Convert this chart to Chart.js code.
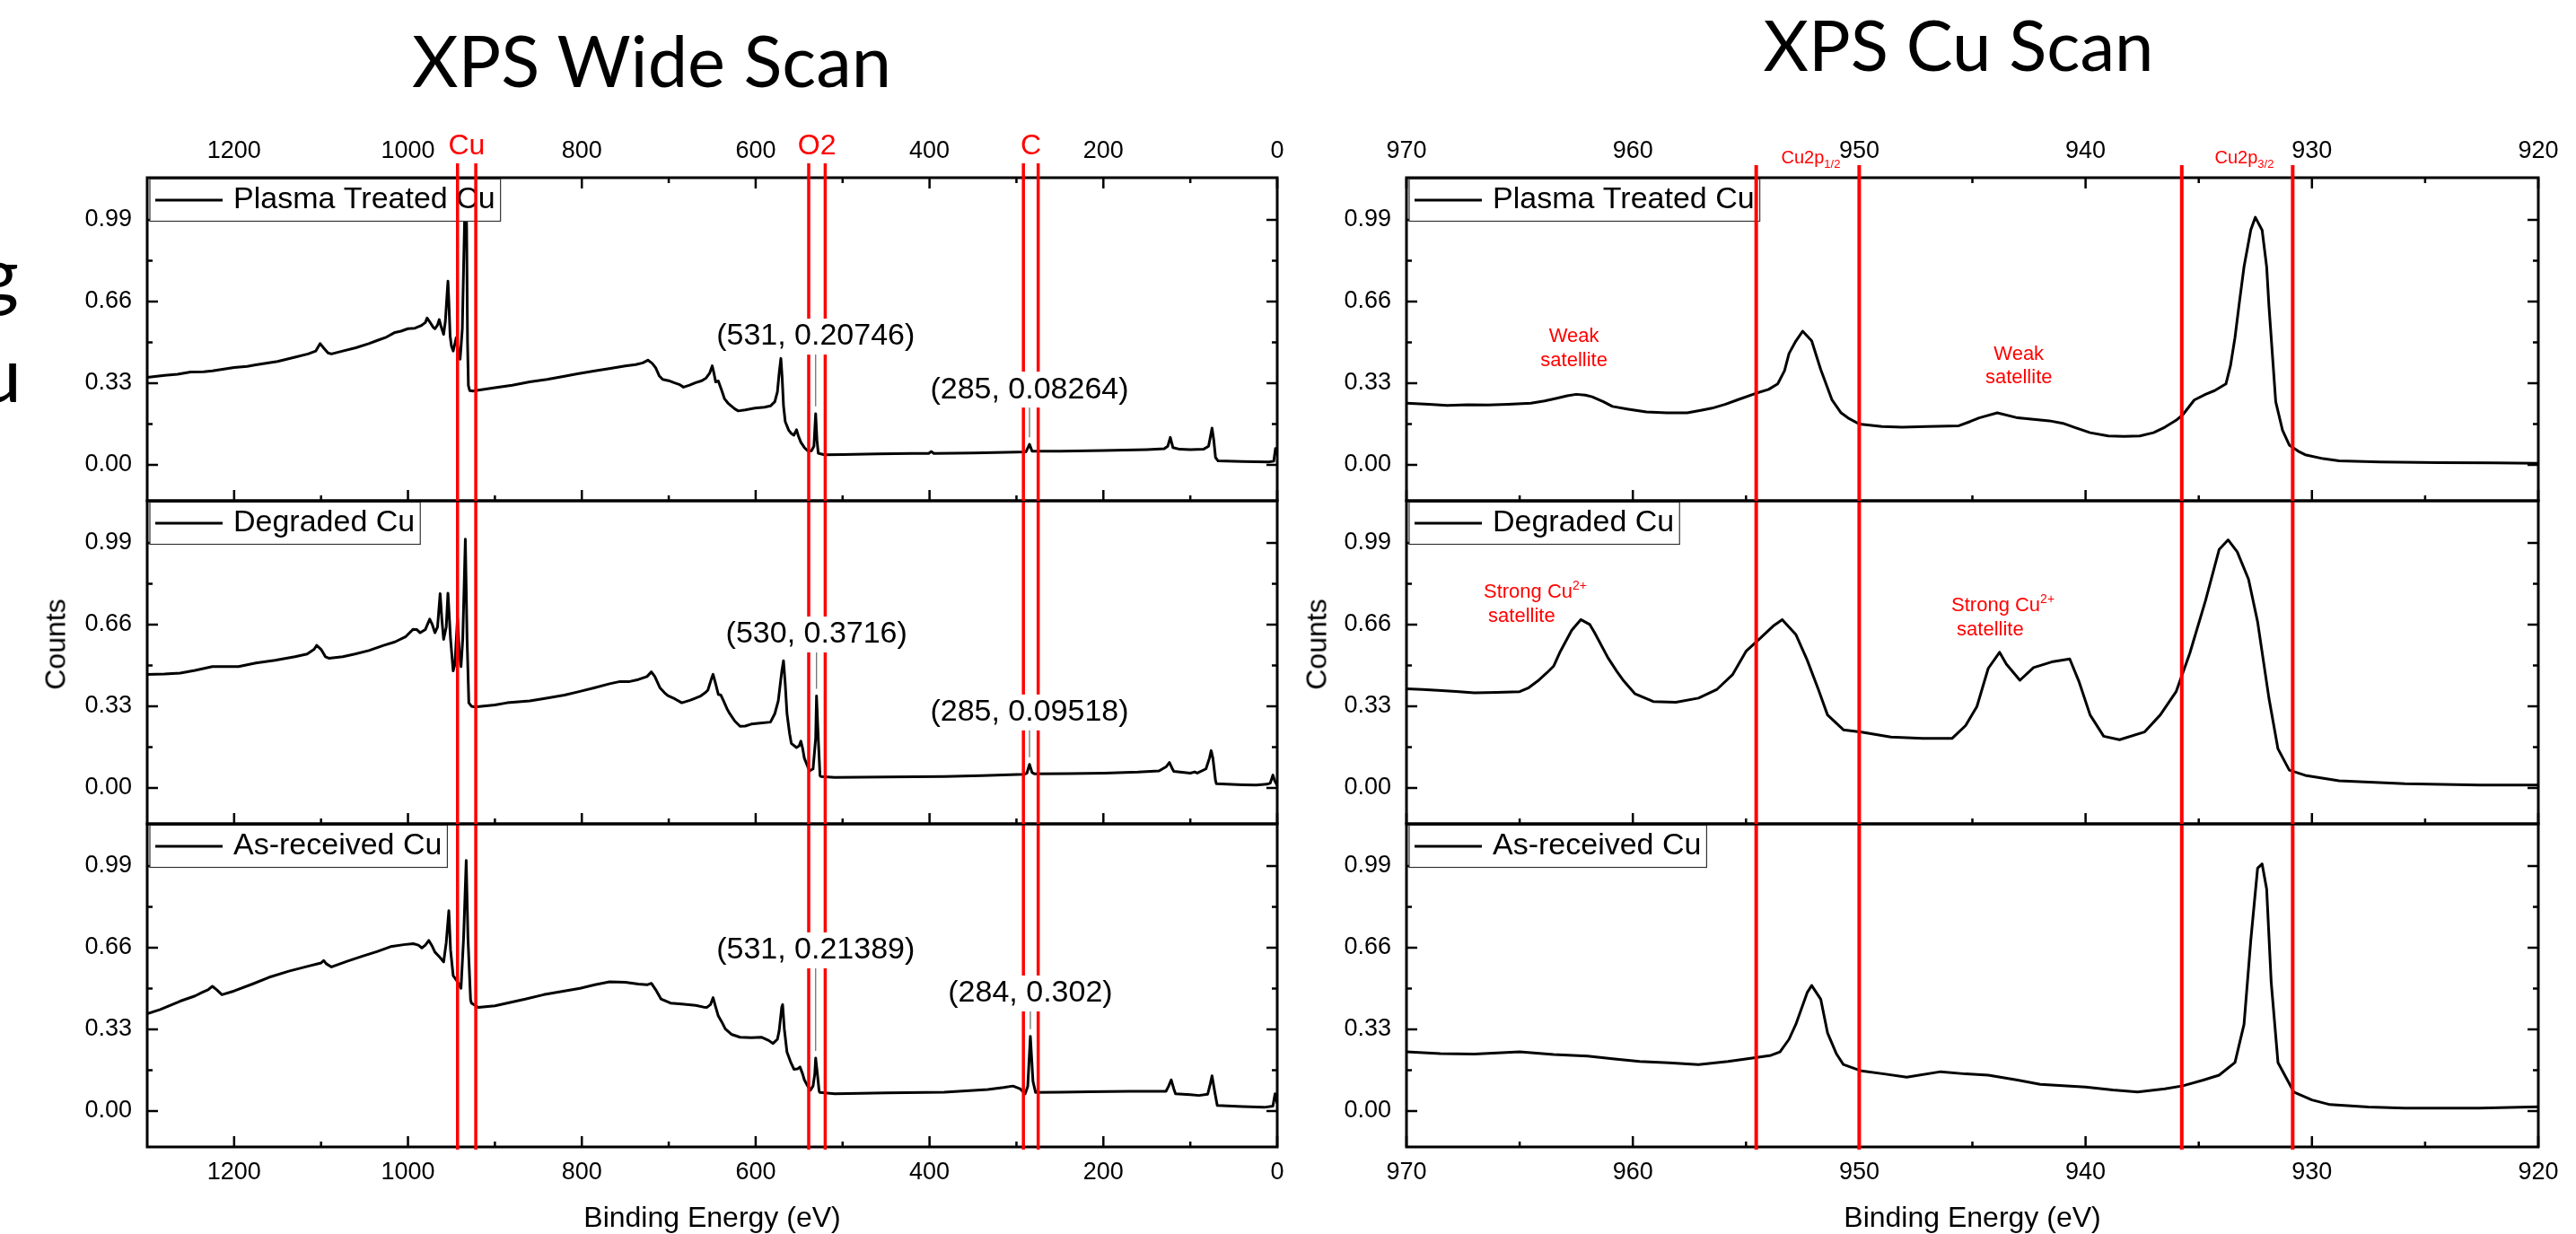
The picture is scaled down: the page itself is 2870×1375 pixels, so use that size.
<!DOCTYPE html>
<html>
<head>
<meta charset="utf-8">
<script src="https://cdn.jsdelivr.net/npm/chart.js@4.4.1/dist/chart.umd.min.js"></script>
<style>
  html, body { margin: 0; padding: 0; background: #fff; }
  body { position: relative; width: 2870px; height: 1375px; overflow: hidden; font-family: "Liberation Sans", Arial, sans-serif; }
  canvas { position: absolute; }
  .txt { position: absolute; white-space: nowrap; line-height: 1; color: #000; }
  .title { font-family: Lato, "Open Sans", sans-serif; }
  .axis { font-size: 32px; }
  .edge { font-family: Lato, sans-serif; font-size: 86px; }
  .counts { position: absolute; font-size: 32px; white-space: nowrap; transform: translate(-50%, -50%) rotate(-90deg); }
</style>
</head>
<body>
<div id="title1" class="txt title">XPS Wide Scan</div>
<div id="title2" class="txt title">XPS Cu Scan</div>
<div id="edge1" class="txt edge">g</div>
<div id="edge2" class="txt edge">u</div>
<div class="counts" style="left:62px;top:718px">Counts</div>
<div class="counts" style="left:1467px;top:718px">Counts</div>
<div id="xlab1" class="txt axis">Binding Energy (eV)</div>
<div id="xlab2" class="txt axis">Binding Energy (eV)</div>

<script>
// ---- axis ticks ----
const wideTicks = [0, 200, 400, 600, 800, 1000, 1200];
const wideMinor = [100, 300, 500, 700, 900, 1100];
const cuTicks = [920, 930, 940, 950, 960, 970];
const cuMinor = [925, 935, 945, 955, 965];
const countTicks = [0, 0.33, 0.66, 0.99];
const countMinor = [0.165, 0.495, 0.825];

const sampleNames = ['Plasma Treated Cu', 'Degraded Cu', 'As-received Cu'];

// ---- wide scans [binding energy eV, counts] ----
const wideTreated = [
  [1300,0.353],[1280,0.362],[1265,0.366],[1250,0.375],[1235,0.376],[1225,0.38],[1210,0.388],[1200,0.393],
  [1185,0.398],[1175,0.404],[1160,0.412],[1150,0.418],[1130,0.435],[1115,0.448],[1106,0.46],[1101,0.49],
  [1097,0.472],[1092,0.452],[1088,0.448],[1075,0.46],[1060,0.473],[1045,0.49],[1035,0.503],[1026,0.514],
  [1015,0.535],[1008,0.54],[1000,0.55],[992,0.552],[985,0.562],[980,0.575],[978,0.593],[975,0.578],
  [971,0.556],[969,0.55],[966,0.565],[964,0.587],[962,0.56],[959,0.527],[957,0.58],[955,0.69],[954,0.742],
  [953,0.66],[951.5,0.52],[950,0.48],[948,0.46],[946,0.49],[944.5,0.514],[942.5,0.47],[940,0.427],
  [937.5,0.55],[936,0.8],[934.5,1.05],[933.7,1.17],[932.5,0.95],[931.5,0.5],[930.5,0.32],[929,0.3],
  [925,0.298],[919,0.302],[900,0.312],[880,0.322],[860,0.335],[840,0.345],[820,0.358],[805,0.368],
  [785,0.38],[767,0.39],[750,0.4],[738,0.405],[730,0.412],[724,0.423],[719,0.41],[715,0.392],[711,0.36],
  [707,0.345],[700,0.34],[694,0.332],[688,0.325],[683,0.314],[676,0.322],[669,0.332],[662,0.34],
  [657,0.351],[653,0.37],[650,0.4],[648,0.37],[646,0.335],[643,0.339],[639,0.3],[636,0.268],[632,0.25],
  [629,0.241],[624,0.226],[620,0.218],[612,0.222],[601,0.229],[590,0.233],[583,0.238],[578,0.255],
  [575,0.295],[573,0.37],[571,0.43],[569.5,0.35],[568,0.24],[566,0.175],[562,0.14],[559,0.127],
  [556,0.12],[553,0.142],[551,0.118],[548,0.091],[544,0.07],[540,0.056],[536,0.056],[533,0.075],
  [531,0.207],[529.5,0.1],[528,0.047],[521,0.041],[500,0.042],[460,0.044],[420,0.046],[401,0.046],
  [398,0.054],[395,0.046],[350,0.048],[300,0.052],[289,0.053],[285,0.083],[282,0.055],[250,0.055],
  [200,0.058],[150,0.062],[130,0.065],[126,0.075],[123,0.111],[120,0.07],[112,0.063],[100,0.062],
  [85,0.063],[79,0.075],[76.5,0.12],[75,0.149],[73,0.1],[71,0.03],[68,0.016],[40,0.014],[10,0.012],
  [4,0.015],[2,0.066],[0,0.04]
];
const wideDegraded = [
  [1300,0.459],[1280,0.46],[1262,0.464],[1245,0.475],[1225,0.49],[1195,0.49],[1175,0.505],[1153,0.516],
  [1130,0.53],[1116,0.541],[1108,0.56],[1105,0.576],[1100,0.56],[1095,0.53],[1091,0.524],[1075,0.53],
  [1061,0.541],[1045,0.555],[1028,0.576],[1015,0.59],[1003,0.61],[994,0.641],[990,0.64],[986,0.627],
  [980,0.64],[975,0.682],[972,0.66],[969,0.627],[966,0.65],[963,0.785],[961,0.68],[959,0.6],[956,0.65],
  [954,0.787],[951,0.6],[948,0.473],[946,0.5],[943,0.688],[941,0.55],[939,0.49],[937,0.6],[934,1.005],
  [932,0.6],[930,0.344],[927,0.33],[923,0.327],[900,0.335],[886,0.344],[860,0.352],[844,0.361],
  [820,0.375],[802,0.39],[785,0.405],[768,0.421],[756,0.43],[745,0.43],[735,0.438],[725,0.45],
  [720,0.469],[716,0.45],[710,0.404],[705,0.385],[701,0.373],[693,0.36],[685,0.344],[675,0.355],
  [664,0.37],[658,0.385],[655,0.395],[651,0.44],[649,0.459],[646,0.42],[643,0.378],[640,0.375],
  [637,0.352],[633,0.32],[630,0.301],[624,0.27],[618,0.249],[612,0.25],[605,0.258],[595,0.262],
  [583,0.266],[578,0.3],[574,0.352],[570,0.47],[568,0.514],[566,0.42],[564,0.301],[561,0.22],
  [559,0.18],[553,0.163],[550,0.17],[548,0.189],[546,0.16],[544,0.12],[540,0.085],[538,0.069],
  [534,0.077],[531,0.2],[530,0.372],[528,0.2],[526,0.05],[525,0.046],[509,0.043],[450,0.044],
  [383,0.046],[340,0.05],[291,0.055],[288,0.06],[285,0.095],[282,0.062],[279,0.057],[240,0.058],
  [199,0.06],[160,0.064],[136,0.069],[128,0.085],[124,0.103],[121,0.08],[119,0.067],[100,0.06],
  [95,0.065],[92,0.06],[82,0.077],[78,0.12],[76,0.151],[74,0.12],[71,0.03],[70,0.017],[40,0.013],
  [24,0.012],[12,0.015],[8,0.02],[5,0.052],[3,0.03],[0,0.01]
];
const wideReceived = [
  [1300,0.393],[1285,0.41],[1262,0.444],[1245,0.465],[1237,0.479],[1230,0.49],[1225,0.504],[1220,0.49],
  [1214,0.47],[1200,0.485],[1179,0.513],[1160,0.54],[1137,0.565],[1115,0.585],[1100,0.598],[1097,0.608],
  [1094,0.595],[1088,0.582],[1070,0.605],[1053,0.625],[1035,0.645],[1020,0.664],[1005,0.672],[994,0.676],
  [988,0.67],[984,0.659],[980,0.67],[976,0.689],[972,0.665],[969,0.642],[963,0.62],[959,0.602],
  [956,0.68],[953,0.809],[951,0.65],[948,0.547],[943,0.522],[939,0.496],[936,0.7],[933,1.012],
  [931,0.7],[928,0.45],[927,0.436],[919,0.419],[900,0.425],[886,0.436],[865,0.452],[844,0.47],
  [820,0.485],[802,0.496],[785,0.51],[768,0.522],[750,0.52],[735,0.513],[725,0.51],[720,0.516],
  [715,0.49],[709,0.453],[698,0.436],[685,0.432],[669,0.427],[660,0.42],[656,0.419],[652,0.43],
  [649,0.458],[646,0.42],[643,0.384],[639,0.36],[635,0.332],[628,0.31],[618,0.298],[605,0.296],
  [593,0.298],[585,0.285],[580,0.273],[575,0.29],[573,0.324],[570,0.42],[569,0.43],[567,0.33],
  [564,0.238],[560,0.2],[556,0.169],[552,0.17],[549,0.178],[546,0.15],[544,0.126],[540,0.1],
  [537,0.084],[534,0.101],[532,0.15],[531,0.214],[529,0.15],[527,0.08],[526,0.075],[509,0.07],
  [450,0.073],[383,0.076],[333,0.087],[315,0.095],[304,0.101],[296,0.09],[290,0.07],[287,0.1],
  [284,0.302],[281,0.12],[278,0.075],[250,0.076],[216,0.078],[170,0.08],[128,0.08],[125,0.1],
  [122,0.126],[119,0.09],[117,0.07],[100,0.066],[90,0.063],[80,0.068],[77,0.11],[75,0.142],[72,0.08],
  [69,0.023],[40,0.018],[15,0.015],[5,0.02],[2.5,0.07],[0,0.03]
];

// ---- Cu 2p scans [binding energy eV, counts] ----
const cuTreated = [
  [970,0.249],[969,0.245],[968.2,0.24],[967.3,0.243],[966.4,0.242],[965.5,0.245],[964.5,0.249],
  [963.9,0.258],[963.4,0.268],[962.9,0.279],[962.5,0.285],[962.1,0.282],[961.8,0.275],[961.3,0.255],
  [960.9,0.236],[960.2,0.225],[959.4,0.214],[958.5,0.21],[957.6,0.21],[957,0.22],[956.5,0.229],
  [955.9,0.245],[955.4,0.262],[954.6,0.288],[954,0.305],[953.6,0.327],[953.3,0.38],[953.1,0.45],
  [952.8,0.5],[952.5,0.54],[952.1,0.501],[951.7,0.385],[951.2,0.262],[950.8,0.21],[950.5,0.19],
  [950,0.165],[949,0.155],[948.1,0.152],[947,0.155],[945.6,0.158],[945.1,0.175],[944.7,0.19],
  [943.9,0.21],[943,0.19],[941.6,0.178],[941,0.168],[940.5,0.152],[939.8,0.13],[939,0.117],
  [938.3,0.115],[937.6,0.117],[937,0.13],[936.5,0.152],[936,0.18],[935.7,0.203],[935.2,0.262],
  [934.7,0.285],[934.3,0.3],[933.8,0.327],[933.6,0.4],[933.4,0.514],[933.2,0.66],[933,0.8],
  [932.7,0.95],[932.5,1.0],[932.2,0.948],[932,0.8],[931.9,0.644],[931.6,0.255],[931.3,0.14],
  [931,0.08],[930.6,0.055],[930.3,0.041],[929.5,0.025],[928.8,0.016],[927,0.012],[924.4,0.009],
  [922,0.008],[920,0.006]
];
const cuDegraded = [
  [970,0.401],[969.3,0.398],[968.6,0.394],[967.8,0.39],[967,0.384],[966,0.386],[965,0.389],
  [964.6,0.405],[964.2,0.432],[963.8,0.465],[963.5,0.492],[963.2,0.552],[962.7,0.637],[962.3,0.68],
  [961.9,0.66],[961.7,0.629],[961.1,0.526],[960.7,0.47],[960.4,0.432],[959.9,0.38],[959.1,0.349],
  [958.1,0.346],[957.1,0.363],[956.3,0.397],[955.6,0.457],[955,0.552],[954.5,0.594],[953.8,0.654],
  [953.4,0.68],[952.8,0.62],[952.3,0.517],[951.8,0.397],[951.4,0.295],[950.7,0.235],[949.9,0.226],
  [948.6,0.206],[947.2,0.2],[945.9,0.2],[945.3,0.252],[944.8,0.329],[944.3,0.483],[943.8,0.548],
  [943.5,0.5],[942.9,0.435],[942.3,0.486],[941.5,0.509],[940.7,0.521],[940.3,0.432],[939.8,0.295],
  [939.2,0.209],[938.5,0.195],[937.4,0.226],[936.7,0.295],[936,0.389],[935.4,0.543],[934.7,0.757],
  [934.1,0.963],[933.7,1.002],[933.3,0.954],[932.8,0.843],[932.4,0.671],[931.9,0.363],[931.5,0.158],
  [931,0.072],[930.3,0.051],[928.8,0.029],[925.9,0.017],[922.6,0.012],[920,0.012]
];
const cuReceived = [
  [970,0.239],[968.5,0.232],[967,0.23],[965,0.239],[963.5,0.228],[962,0.222],[960.8,0.21],
  [959.7,0.2],[958.4,0.195],[957.1,0.188],[955.8,0.2],[954.8,0.213],[953.9,0.225],[953.5,0.239],
  [953.1,0.29],[952.8,0.35],[952.3,0.478],[952.1,0.507],[951.7,0.452],[951.4,0.316],[951,0.23],
  [950.7,0.188],[949.9,0.162],[948.9,0.15],[947.9,0.137],[946.4,0.159],[945.3,0.15],[944.3,0.145],
  [943,0.125],[942,0.108],[940,0.097],[938.8,0.085],[937.7,0.077],[936.5,0.09],[935.7,0.102],
  [934.8,0.125],[934.1,0.145],[933.4,0.196],[933,0.35],[932.7,0.691],[932.4,0.981],[932.2,0.998],
  [932,0.896],[931.8,0.521],[931.5,0.196],[930.8,0.077],[930,0.045],[929.2,0.026],[927.5,0.016],
  [925.9,0.012],[922.6,0.012],[920,0.017]
];

// ---- reference lines (eV) and their names ----
const wideMarkers = [943, 922, 539, 520, 292, 275];
const wideMarkerNames = [['Cu', 932.5], ['O2', 529.5], ['C', 283.5]];
const cuMarkers = [954.55, 950.0, 935.75, 930.85];
const cuMarkerNames = [['Cu2p', '1/2', 950.0], ['Cu2p', '3/2', 930.85]];

// ---- peak read-outs on the wide scans ----
const widePeaks = [
  [[531, 0.20746], [285, 0.08264]],
  [[530, 0.3716], [285, 0.09518]],
  [[531, 0.21389], [284, 0.302]]
];
// where the read-out boxes sit (counts level of their centre)
const widePeakLabelAt = [[0.518, 0.304], [0.62, 0.305], [0.649, 0.475]];

// satellite notes on the Cu scan: [text, superscript, energy, baseline level, align]
const cuNotes = [
  [
    ['Weak', '', 962.6, 0.497, 'center'], ['satellite', '', 962.6, 0.397, 'center'],
    ['Weak', '', 942.95, 0.424, 'center'], ['satellite', '', 942.95, 0.33, 'center']
  ],
  [
    ['Strong Cu', '2+', 966.59, 0.767, 'left'], ['satellite', '', 966.39, 0.669, 'left'],
    ['Strong Cu', '2+', 945.93, 0.715, 'left'], ['satellite', '', 945.69, 0.616, 'left']
  ],
  []
];

const FONT = '"Liberation Sans", Arial, sans-serif';
const RED = '#ff0000';
const panelTops = [198, 558, 918];
const panelH = 360;
const yMin = -0.145, yMax = 1.16;

const columns = [
  { left: 164, width: 1259, min: 0, max: 1300, major: wideTicks, minor: wideMinor,
    markers: wideMarkers, markerW: 3.5, rise: 16, series: [wideTreated, wideDegraded, wideReceived] },
  { left: 1567, width: 1261, min: 920, max: 970, major: cuTicks, minor: cuMinor,
    markers: cuMarkers, markerW: 4, rise: 14, series: [cuTreated, cuDegraded, cuReceived] }
];

function drawRich(ctx, parts, x, y, align) {
  const widths = parts.map(p => { ctx.font = p.size + 'px ' + FONT; return ctx.measureText(p.t).width; });
  const total = widths.reduce((s, w) => s + w, 0);
  let cx = align === 'right' ? x - total : align === 'center' ? x - total / 2 : x;
  ctx.textAlign = 'left';
  ctx.textBaseline = 'alphabetic';
  parts.forEach((p, i) => {
    ctx.font = p.size + 'px ' + FONT;
    ctx.fillText(p.t, cx, y + (p.dy || 0));
    cx += widths[i];
  });
}

function decor(col, row) {
  const c = columns[col];
  return {
    id: 'decor',
    afterDatasetsDraw(chart) {
      const ctx = chart.ctx;
      const a = chart.chartArea;
      const X = v => chart.scales.x.getPixelForValue(v);
      const Y = v => chart.scales.y.getPixelForValue(v);
      ctx.save();

      // frame and inward ticks
      ctx.strokeStyle = '#000';
      ctx.lineWidth = 3;
      ctx.strokeRect(a.left, a.top, a.right - a.left, a.bottom - a.top);
      ctx.lineWidth = 2.5;
      ctx.beginPath();
      [[c.major, 12], [c.minor, 6]].forEach(([vals, len]) => vals.forEach(v => {
        const x = X(v);
        ctx.moveTo(x, a.bottom); ctx.lineTo(x, a.bottom - len);
        if (row === 0) { ctx.moveTo(x, a.top); ctx.lineTo(x, a.top + len); }
      }));
      [[countTicks, 12], [countMinor, 6]].forEach(([vals, len]) => vals.forEach(v => {
        const y = Y(v);
        ctx.moveTo(a.left, y); ctx.lineTo(a.left + len, y);
        ctx.moveTo(a.right, y); ctx.lineTo(a.right - len, y);
      }));
      ctx.stroke();

      // legend
      const name = chart.data.datasets[0].label;
      ctx.font = '34px ' + FONT;
      const lw = ctx.measureText(name).width;
      ctx.fillStyle = '#fff';
      ctx.fillRect(a.left + 3, a.top + 1.5, lw + 99, 47);
      ctx.strokeStyle = '#333';
      ctx.lineWidth = 1.2;
      ctx.strokeRect(a.left + 3, a.top + 1.5, lw + 99, 47);
      ctx.strokeStyle = '#000';
      ctx.lineWidth = 3;
      ctx.beginPath();
      ctx.moveTo(a.left + 9, a.top + 25);
      ctx.lineTo(a.left + 84, a.top + 25);
      ctx.stroke();
      ctx.fillStyle = '#000';
      ctx.textAlign = 'left';
      ctx.textBaseline = 'middle';
      ctx.fillText(name, a.left + 96, a.top + 25);

      // red reference lines
      ctx.strokeStyle = RED;
      ctx.lineWidth = c.markerW;
      ctx.beginPath();
      const y0 = row === 0 ? a.top - c.rise : a.top;
      const y1 = row === 2 ? a.bottom + 3 : a.bottom;
      c.markers.forEach(v => { const x = X(v); ctx.moveTo(x, y0); ctx.lineTo(x, y1); });
      ctx.stroke();

      // red names above the top panel
      ctx.fillStyle = RED;
      if (row === 0 && col === 0) {
        ctx.font = '32px ' + FONT;
        ctx.textAlign = 'center';
        ctx.textBaseline = 'alphabetic';
        wideMarkerNames.forEach(([t, e]) => ctx.fillText(t, X(e), a.top - 26));
      }
      if (row === 0 && col === 1) {
        cuMarkerNames.forEach(([t, sub, e]) =>
          drawRich(ctx, [{ t, size: 20 }, { t: sub, size: 13, dy: 5 }], X(e) - 21, a.top - 16, 'right'));
      }

      // peak read-outs (wide scan)
      if (col === 0) {
        ctx.font = '34px ' + FONT;
        widePeaks[row].forEach(([e, v], i) => {
          const text = '(' + e + ', ' + v + ')';
          const x = X(e);
          const y = Y(widePeakLabelAt[row][i]);
          const w = ctx.measureText(text).width;
          ctx.fillStyle = '#fff';
          ctx.fillRect(x - w / 2 - 2, y - 20, w + 4, 40);
          ctx.strokeStyle = '#666';
          ctx.lineWidth = 1.2;
          ctx.beginPath();
          ctx.moveTo(x, y + 20);
          ctx.lineTo(x, Y(v) - 8);
          ctx.stroke();
          ctx.fillStyle = '#000';
          ctx.textAlign = 'center';
          ctx.textBaseline = 'middle';
          ctx.fillText(text, x, y);
        });
      }

      // satellite notes (Cu scan)
      if (col === 1) {
        ctx.fillStyle = RED;
        cuNotes[row].forEach(([t, sup, e, lvl, align]) => {
          const parts = [{ t, size: 22 }];
          if (sup) parts.push({ t: sup, size: 14, dy: -9 });
          drawRich(ctx, parts, X(e), Y(lvl), align);
        });
      }
      ctx.restore();
    }
  };
}

function makePanel(col, row) {
  const c = columns[col];
  const cv = document.createElement('canvas');
  const W = 120 + c.width + 40, H = 120 + panelH + 120;
  cv.width = W; cv.height = H;
  cv.style.width = W + 'px'; cv.style.height = H + 'px';
  cv.style.left = (c.left - 120) + 'px';
  cv.style.top = (panelTops[row] - 120) + 'px';
  document.body.insertBefore(cv, document.body.firstChild);

  const xAxis = (position, showLabels, pad) => ({
    type: 'linear', position, min: c.min, max: c.max, reverse: true,
    grid: { display: false, drawTicks: false }, border: { display: false },
    ticks: { display: showLabels, padding: pad, autoSkip: false, maxRotation: 0,
             font: { size: 27, family: FONT }, color: '#000', callback: v => String(v) },
    afterBuildTicks: s => { s.ticks = c.major.map(v => ({ value: v })); },
    afterFit: s => { s.height = 120; }
  });

  return new Chart(cv, {
    type: 'line',
    data: {
      datasets: [{
        label: sampleNames[row],
        data: c.series[row].map(([x, y]) => ({ x, y })),
        borderColor: '#000', borderWidth: 3, borderJoinStyle: 'round',
        pointRadius: 0, tension: 0, fill: false
      }]
    },
    options: {
      responsive: false, animation: false, events: [], devicePixelRatio: 1,
      layout: { padding: { left: 0, right: 40, top: 0, bottom: 0 } },
      plugins: { legend: { display: false }, tooltip: { enabled: false } },
      scales: {
        x: xAxis('bottom', row === 2, 12),
        x2: xAxis('top', row === 0, 13),
        y: {
          type: 'linear', min: yMin, max: yMax,
          grid: { display: false, drawTicks: false }, border: { display: false },
          ticks: { padding: 17, font: { size: 27, family: FONT }, color: '#000',
                   callback: v => Number(v).toFixed(2) },
          afterBuildTicks: s => { s.ticks = countTicks.map(v => ({ value: v })); },
          afterFit: s => { s.width = 120; }
        }
      }
    },
    plugins: [decor(col, row)]
  });
}

for (let col = 0; col < 2; col++) for (let row = 0; row < 3; row++) makePanel(col, row);

// ---- HTML text placement ----
function fitWidth(el, target) {
  el.style.fontSize = '100px';
  const w = el.getBoundingClientRect().width;
  el.style.fontSize = (100 * target / w) + 'px';
}
function placeText(el, x, baseline, align) {
  el.style.left = '0px';
  el.style.top = '0px';
  const probe = document.createElement('span');
  probe.style.cssText = 'display:inline-block;width:0;height:0;vertical-align:baseline';
  el.appendChild(probe);
  const r = el.getBoundingClientRect();
  const b = probe.getBoundingClientRect().top - r.top;
  el.style.top = (baseline - b) + 'px';
  el.style.left = (align === 'center' ? x - r.width / 2 : align === 'right' ? x - r.width : x) + 'px';
}

fitWidth(document.getElementById('title1'), 534);
fitWidth(document.getElementById('title2'), 435);
placeText(document.getElementById('title1'), 726, 97, 'center');
placeText(document.getElementById('title2'), 2182, 79, 'center');
placeText(document.getElementById('edge1'), 21, 336, 'right');
placeText(document.getElementById('edge2'), 24, 448, 'right');
placeText(document.getElementById('xlab1'), 793.5, 1367, 'center');
placeText(document.getElementById('xlab2'), 2197.5, 1367, 'center');
</script>
</body>
</html>
